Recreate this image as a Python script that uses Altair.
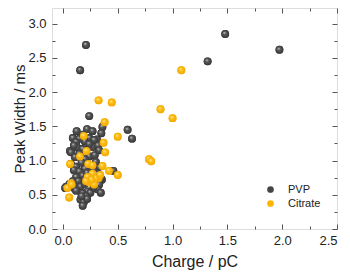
import altair as alt
import pandas as pd

# ---- data ----
pvp_charge = [0.21, 0.157, 1.48, 1.32, 1.975, 0.24, 0.59, 0.63,
              0.125, 0.22, 0.27, 0.36, 0.35, 0.31,
              0.09, 0.15, 0.24, 0.285, 0.18, 0.20, 0.12,
              0.064, 0.13, 0.18, 0.27, 0.24, 0.32, 0.10,
              0.073, 0.15, 0.16, 0.24, 0.29, 0.33, 0.11, 0.20,
              0.073, 0.12, 0.17, 0.33, 0.30, 0.10, 0.20, 0.25, 0.28,
              0.15, 0.12, 0.18, 0.22, 0.32, 0.355, 0.46, 0.09, 0.14, 0.20, 0.26,
              0.03, 0.10, 0.16, 0.33, 0.315, 0.225, 0.25, 0.06, 0.20, 0.28, 0.12, 0.18,
              0.345, 0.21, 0.16, 0.19, 0.18, 0.22, 0.17, 0.345, 0.02]
pvp_width = [2.69, 2.32, 2.85, 2.45, 2.62, 1.65, 1.45, 1.32,
             1.43, 1.46, 1.43, 1.49, 1.40, 1.31,
             1.33, 1.32, 1.33, 1.30, 1.38, 1.28, 1.27,
             1.14, 1.19, 1.17, 1.20, 1.24, 1.22, 1.22,
             1.12, 1.10, 1.05, 1.06, 1.08, 1.15, 1.05, 1.02,
             0.95, 0.91, 0.97, 0.91, 0.98, 0.86, 0.88, 0.90, 0.87,
             0.84, 0.76, 0.78, 0.82, 0.80, 0.72, 0.85, 0.70, 0.70, 0.72, 0.76,
             0.62, 0.60, 0.62, 0.65, 0.58, 0.55, 0.53, 0.66, 0.66, 0.61, 0.56, 0.52,
             0.53, 0.48, 0.43, 0.39, 0.34, 0.44, 0.48, 0.74, 0.60]

cit_charge = [0.325, 0.445, 0.89, 1.08, 1.0, 0.38, 0.50, 0.19, 0.37, 0.385,
              0.785, 0.805, 0.36, 0.42, 0.50, 0.325, 0.155, 0.215, 0.066, 0.23,
              0.27, 0.27, 0.225, 0.30, 0.24, 0.285, 0.073, 0.04, 0.057, 0.08,
              0.26, 0.21, 0.34]
cit_width = [1.88, 1.85, 1.75, 2.32, 1.62, 1.56, 1.35, 1.36, 1.26, 1.12,
             1.02, 0.99, 0.92, 0.85, 0.79, 0.74, 1.06, 1.14, 0.95, 0.95,
             0.93, 0.81, 0.76, 0.74, 0.68, 0.65, 0.67, 0.60, 0.46, 0.65,
             0.72, 0.70, 0.79]

series_names = ["PVP", "Citrate"]
series_colors = ["#454545", "#FFB400"]

x_major = [0.0, 0.5, 1.0, 1.5, 2.0, 2.5]
x_minor = [0.25, 0.75, 1.25, 1.75, 2.25]
y_major = [0.0, 0.5, 1.0, 1.5, 2.0, 2.5, 3.0]
y_minor = [0.25, 0.75, 1.25, 1.75, 2.25, 2.75]

df = pd.DataFrame({
    "charge": pvp_charge + cit_charge,
    "width": pvp_width + cit_width,
    "series": ["PVP"] * len(pvp_charge) + ["Citrate"] * len(cit_charge),
})

W, H = 285, 221
FONT = "Liberation Sans"
AX = "#555555"

xs = alt.Scale(domain=[-0.1, 2.5], nice=False, zero=False)
ys = alt.Scale(domain=[0, 3.23], nice=False)


def tick_axis(orient, offset, values, size):
    return alt.Axis(orient=orient, offset=offset, values=values, tickSize=size,
                    labels=False, domain=False, grid=False, title="",
                    tickColor=AX, tickWidth=1)


def grad(hi, mid, lo):
    return alt.RadialGradient(
        gradient="radial",
        stops=[alt.GradientStop(offset=0, color=hi),
               alt.GradientStop(offset=0.35, color=mid),
               alt.GradientStop(offset=1, color=lo)],
        x1=0.38, y1=0.32, r1=0, x2=0.5, y2=0.5, r2=0.55)


base = alt.Chart(df)

legend_layer = base.mark_circle(size=62, opacity=1).encode(
    x=alt.X("charge:Q", scale=xs, axis=alt.Axis(
        orient="bottom", values=x_major, format=".1f", ticks=False, domain=False,
        grid=False, labelFontSize=13, labelPadding=5, labelColor="#222",
        labelFont=FONT, title="Charge / pC", titleFont=FONT, titleFontSize=16,
        titleFontWeight="normal", titleColor="#222", titlePadding=6)),
    y=alt.Y("width:Q", scale=ys, axis=alt.Axis(
        orient="left", values=y_major, format=".1f", ticks=False, domain=False,
        grid=False, labelFontSize=13, labelPadding=6, labelColor="#222",
        labelFont=FONT, title="Peak Width / ms", titleFont=FONT, titleFontSize=15,
        titleFontWeight="normal", titleColor="#222", titlePadding=0)),
    color=alt.Color("series:N", scale=alt.Scale(domain=series_names, range=series_colors),
                    legend=alt.Legend(orient="none", legendX=213, legendY=176, title=None,
                                      padding=0, labelFont=FONT, labelFontSize=11,
                                      labelColor="#222", labelOffset=12, symbolSize=45,
                                      symbolType="circle", rowPadding=2,
                                      symbolStrokeWidth=0)),
)

pvp_layer = base.transform_filter(alt.datum.series == "PVP").mark_circle(
    size=62, opacity=1, fill=grad("#d8d8d8", "#5a5a5a", "#333333")).encode(
    x=alt.X("charge:Q", scale=xs, axis=tick_axis("top", -H, x_major, 5)),
    y=alt.Y("width:Q", scale=ys, axis=tick_axis("right", -W, y_major, 5)),
)

cit_layer = base.transform_filter(alt.datum.series == "Citrate").mark_circle(
    size=62, opacity=1, fill=grad("#fff3b0", "#ffc21a", "#f0a500")).encode(
    x=alt.X("charge:Q", scale=xs, axis=tick_axis("bottom", -H, x_major, 5)),
    y=alt.Y("width:Q", scale=ys, axis=tick_axis("left", -W, y_major, 5)),
)

minor1 = base.mark_circle(opacity=0, size=1).encode(
    x=alt.X("charge:Q", scale=xs, axis=tick_axis("top", -H, x_minor, 3)),
    y=alt.Y("width:Q", scale=ys, axis=tick_axis("right", -W, y_minor, 3)),
)
minor2 = base.mark_circle(opacity=0, size=1).encode(
    x=alt.X("charge:Q", scale=xs, axis=tick_axis("bottom", -H, x_minor, 3)),
    y=alt.Y("width:Q", scale=ys, axis=tick_axis("left", -W, y_minor, 3)),
)

chart = alt.layer(legend_layer, pvp_layer, cit_layer, minor1, minor2).resolve_axis(
    x="independent", y="independent"
).properties(
    width=W, height=H,
    autosize=alt.AutoSizeParams(type="none"),
    padding={"left": 44, "top": 0, "right": 5, "bottom": 47},
).configure_view(stroke=AX, strokeWidth=1.2).configure(background="white")

chart.save("out.html", embed_options={"renderer": "svg", "actions": False})
